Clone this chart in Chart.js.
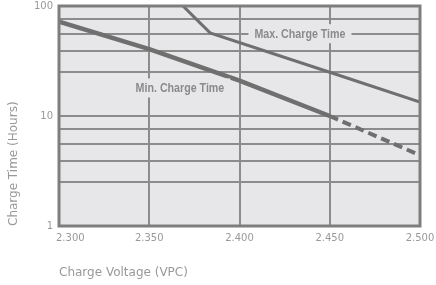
<!DOCTYPE html>
<html>
<head>
<meta charset="utf-8">
<script src="https://cdn.jsdelivr.net/npm/chart.js@4"></script>
<style>
  html, body { margin:0; padding:0; background:#fff; }
  #chart { display:block; }
</style>
</head>
<body>
<canvas id="chart" width="436" height="285"></canvas>
<script>
/* charge time vs charge voltage, log y */

const X_TICKS  = [2.30, 2.35, 2.40, 2.45, 2.50];
const Y_GRID   = [1, 2.5, 3.9, 5.6, 7.6, 10, 25, 39, 56, 76, 100];
const Y_LABELS = [1, 10, 100];

const MIN_V     = [2.30, 2.35, 2.40, 2.45];
const MIN_T     = [72, 40.6, 21, 10];
const MIN_EXT_V = [2.45, 2.50];
const MIN_EXT_T = [10, 4.4];
const MAX_V     = [2.3687, 2.3837, 2.45, 2.50];
const MAX_T     = [100, 57, 25, 13.4];

const TXT    = '#999999';
const GRID   = '#8c8c8c';
const LINE   = '#6f6f6f';
const PLOTBG = '#e7e7e9';

const pts = (xs, ys) => xs.map((x, i) => ({ x, y: ys[i] }));

const LABELS = [
  { text:'Max. Charge Time', x:2.4335, y:56 },
  { text:'Min. Charge Time', x:2.367,  y:18 },
];

const plotDeco = {
  id: 'plotDeco',
  beforeDraw(chart) {
    const { ctx, chartArea:a } = chart;
    ctx.save();
    ctx.fillStyle = PLOTBG;
    ctx.fillRect(a.left, a.top, a.right - a.left, a.bottom - a.top);
    ctx.restore();
  },
  afterDraw(chart) {
    const { ctx, chartArea:a, scales } = chart;
    ctx.save();
    // frame
    ctx.strokeStyle = '#7e7e7e';
    ctx.lineWidth = 3;
    ctx.strokeRect(a.left, a.top, a.right - a.left, a.bottom - a.top);

    // x tick labels (first one sits right of the corner)
    ctx.font = '10px "DejaVu Sans"';
    ctx.fillStyle = TXT;
    ctx.textBaseline = 'middle';
    X_TICKS.forEach((v, i) => {
      const px = scales.x.getPixelForValue(v);
      ctx.textAlign = i === 0 ? 'left' : 'center';
      ctx.fillText(v.toFixed(3), i === 0 ? px - 3 : px, a.bottom + 12);
    });

    // curve labels on a background patch, narrow bold
    ctx.font = 'bold 13px "Liberation Sans", Arial, sans-serif';
    ctx.textAlign = 'center';
    LABELS.forEach(l => {
      const px = scales.x.getPixelForValue(l.x);
      const py = scales.y.getPixelForValue(l.y);
      const w  = ctx.measureText(l.text).width * 0.82 + 12;
      ctx.fillStyle = PLOTBG;
      ctx.fillRect(px - w / 2, py - 9.5, w, 19);
      ctx.save();
      ctx.translate(px, py + 1);
      ctx.scale(0.82, 1);
      ctx.fillStyle = '#8a8a8a';
      ctx.fillText(l.text, 0, 0);
      ctx.restore();
    });
    ctx.restore();
  }
};

new Chart(document.getElementById('chart'), {
  type: 'line',
  data: {
    datasets: [
      { data: pts(MIN_V, MIN_T), borderColor: LINE, borderWidth: 4.5 },
      { data: pts(MIN_EXT_V, MIN_EXT_T), borderColor: LINE, borderWidth: 4, borderDash: [9, 5] },
      { data: pts(MAX_V, MAX_T), borderColor: LINE, borderWidth: 3 },
    ]
  },
  options: {
    responsive: false,
    animation: false,
    events: [],
    elements: { point: { radius: 0 }, line: { tension: 0, fill: false } },
    layout: { padding: { top: 0, right: 16, left: 0, bottom: 0 } },
    plugins: { legend: { display: false }, tooltip: { enabled: false } },
    scales: {
      x: {
        type: 'linear', min: 2.30, max: 2.50,
        afterBuildTicks: s => { s.ticks = X_TICKS.map(v => ({ value: v })); },
        afterFit: s => { s.height = 59; s.paddingLeft = 0; s.paddingRight = 0; },
        ticks: { display: false },
        grid: { color: GRID, lineWidth: 2, drawTicks: false },
        border: { display: false },
        title: {
          display: true, text: 'Charge Voltage (VPC)', align: 'start',
          color: TXT, font: { family: 'DejaVu Sans', size: 12 },
          padding: { top: 0, bottom: 5 }
        }
      },
      y: {
        type: 'logarithmic', min: 1, max: 100,
        afterBuildTicks: s => { s.ticks = Y_GRID.map(v => ({ value: v })); },
        afterFit: s => { s.width = 59; s.paddingTop = 6; s.paddingBottom = 0; },
        ticks: {
          padding: 6,
          color: TXT,
          font: { family: 'DejaVu Sans', size: 10 },
          callback: v => Y_LABELS.includes(v) ? String(v) : ''
        },
        grid: { color: GRID, lineWidth: 2, drawTicks: false },
        border: { display: false },
        title: {
          display: true, text: 'Charge Time (Hours)', align: 'start',
          color: TXT, font: { family: 'DejaVu Sans', size: 12 },
          padding: { top: 7, bottom: 0 }
        }
      }
    }
  },
  plugins: [plotDeco]
});
</script>
</body>
</html>
